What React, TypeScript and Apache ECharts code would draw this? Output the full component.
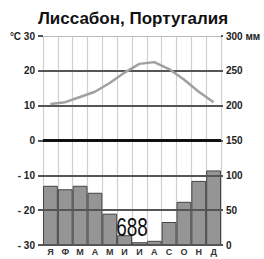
import React, { useEffect, useRef } from "react";
import * as echarts from "echarts";

const months = ["Я", "Ф", "М", "А", "М", "И", "И", "А", "С", "О", "Н", "Д"];
const temperature = [10.5, 11, 12.5, 14, 16.5, 19.5, 22, 22.5, 20.5, 17.5, 14, 11];
const precipitation = [85, 80, 85, 75, 45, 14, 4, 6, 33, 62, 92, 107];
const totalPrecip = "688";
const tempTicks = [-30, -20, -10, 0, 10, 20, 30];
const tempTickLabels: Record<string, string> = {
  "30": "°C 30", "20": "20", "10": "10", "0": "0", "-10": "- 10", "-20": "- 20", "-30": "- 30",
};
const precipTickLabels: Record<string, string> = {
  "0": "0", "50": "50", "100": "100", "150": "150", "200": "200", "250": "250", "300": "300 мм",
};
const titleText = "Лиссабон, Португалия";

const FONT = "'Liberation Sans', Arial, sans-serif";

export default function App() {
  const ref = useRef<HTMLDivElement>(null);
  useEffect(() => {
    if (!ref.current) return;
    const chart = echarts.init(ref.current, undefined, { renderer: "svg" });
    const lineStyleFor = (v: number) => {
      if (v === 0) return { color: "#111", width: 3, type: "solid" };
      if (v === 30) return { color: "#bbb", width: 1, type: "solid" };
      return { color: "#555", width: 2, type: "solid" };
    };
    chart.setOption({
      animation: false,
      title: {
        text: titleText,
        left: 128,
        textAlign: "center",
        top: 5,
        textStyle: { fontSize: 17, fontWeight: "bold", color: "#111", fontFamily: FONT },
      },
      grid: { left: 43, right: 43, top: 36, bottom: 14 },
      xAxis: {
        type: "category",
        data: months,
        boundaryGap: true,
        axisLine: { show: false },
        axisTick: { show: false },
        axisLabel: {
          margin: 2,
          fontSize: 9,
          lineHeight: 10,
          fontWeight: "bold",
          color: "#333",
          fontFamily: FONT,
          interval: 0,
        },
        splitLine: { show: true, interval: 0, lineStyle: { color: "#cfcfcf", width: 1.2 } },
      },
      yAxis: [
        {
          type: "value",
          min: -30,
          max: 30,
          interval: 10,
          position: "left",
          axisLine: { show: false },
          axisTick: { show: true, length: 5, lineStyle: { color: "#555", width: 2 } },
          splitLine: { show: false },
          axisLabel: {
            margin: 8,
            fontSize: 10,
            fontWeight: "bold",
            color: "#222",
            fontFamily: FONT,
            formatter: (v: number) => tempTickLabels[String(v)] ?? String(v),
          },
        },
        {
          type: "value",
          min: 0,
          max: 300,
          interval: 50,
          position: "right",
          axisLine: { show: false },
          axisTick: { show: true, length: 2, lineStyle: { color: "#555", width: 2 } },
          splitLine: { show: false },
          axisLabel: {
            margin: 5,
            fontSize: 10,
            fontWeight: "bold",
            color: "#222",
            fontFamily: FONT,
            formatter: (v: number) => precipTickLabels[String(v)] ?? String(v),
          },
        },
      ],
      series: [
        {
          type: "bar",
          yAxisIndex: 1,
          data: precipitation,
          barCategoryGap: "0%",
          itemStyle: { color: "#959595", borderColor: "#444", borderWidth: 1 },
          z: 2,
        },
        {
          type: "line",
          yAxisIndex: 0,
          data: temperature,
          symbol: "none",
          lineStyle: { color: "#a0a0a0", width: 2.5 },
          z: 5,
          markLine: {
            silent: true,
            symbol: "none",
            label: { show: false },
            z: 4,
            data: tempTicks.map((v) => ({ yAxis: v, lineStyle: lineStyleFor(v) })),
          },
        },
      ],
      graphic: [
        {
          type: "text",
          x: 132,
          y: 228,
          scaleX: 0.76,
          z: 10,
          style: {
            text: totalPrecip,
            fontSize: 25,
            fontFamily: FONT,
            fill: "#111",
            textAlign: "center",
            textVerticalAlign: "middle",
          },
        },
      ],
    });
    return () => chart.dispose();
  }, []);
  return (
    <div
      ref={ref}
      style={{ position: "absolute", left: 0, top: 0, width: 264, height: 259, background: "#fff" }}
    />
  );
}
